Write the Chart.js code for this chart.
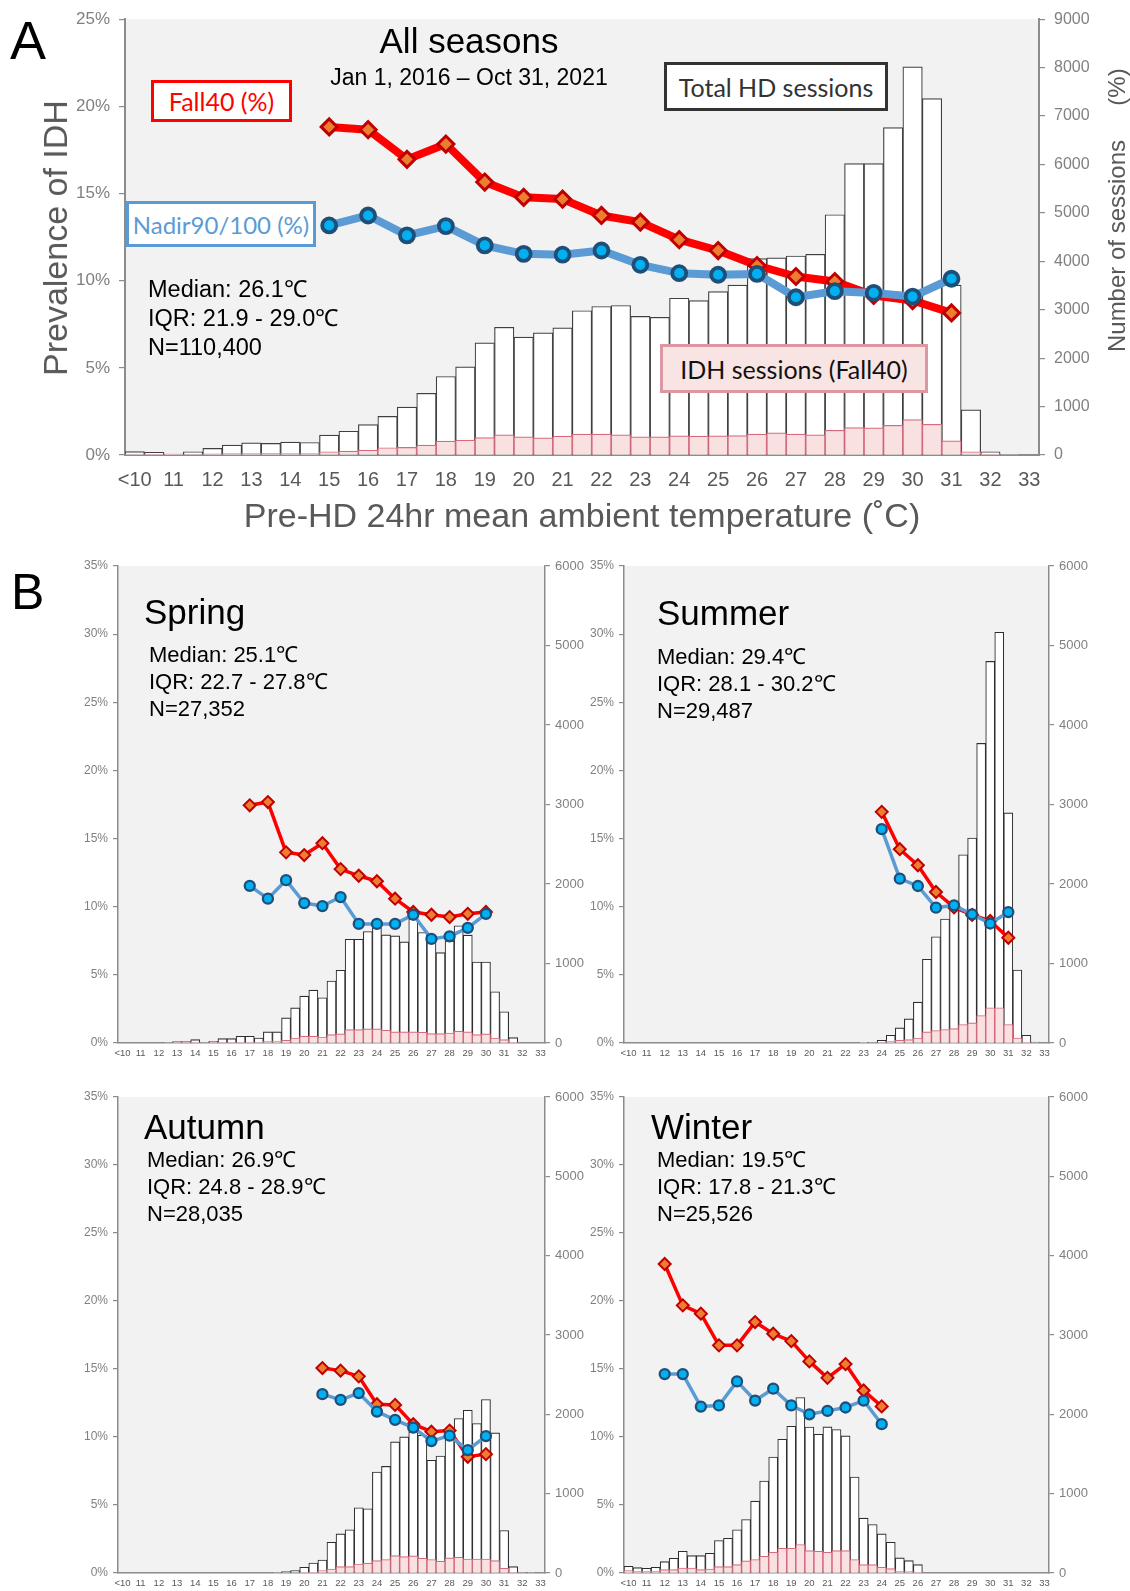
<!DOCTYPE html>
<html>
<head>
<meta charset="utf-8">
<script src="https://cdn.jsdelivr.net/npm/chart.js@4.4.1/dist/chart.umd.min.js"></script>
<style>
  html, body { margin: 0; padding: 0; background: #fff; }
  body { position: relative; width: 1130px; height: 1591px; overflow: hidden; font-family: "Liberation Sans", Arial, sans-serif; }
  canvas { position: absolute; }
  .t { position: absolute; white-space: nowrap; line-height: 1; color: #000; }
  .box { position: absolute; box-sizing: border-box; display: flex; align-items: center; justify-content: center;
         font-family: Lato, "Open Sans", sans-serif; white-space: nowrap; background: #fff; }
  .rot { position: absolute; white-space: nowrap; line-height: 1; color: #595959; transform: translate(-50%, -50%) rotate(-90deg); }
</style>
</head>
<body>
<canvas id="chartAll"></canvas>
<canvas id="chartSpring"></canvas>
<canvas id="chartSummer"></canvas>
<canvas id="chartAutumn"></canvas>
<canvas id="chartWinter"></canvas>

<script>
// Temperature bins (half degree steps), labels shown only on whole degrees
const tempCats = ['<10','10.5','11','11.5','12','12.5','13','13.5','14','14.5','15','15.5','16','16.5','17','17.5',
  '18','18.5','19','19.5','20','20.5','21','21.5','22','22.5','23','23.5','24','24.5','25','25.5','26','26.5',
  '27','27.5','28','28.5','29','29.5','30','30.5','31','31.5','32','32.5','33'];

// ---- A: all seasons ----
const allTotal = [70,55,20,68,136,205,252,239,266,259,409,491,627,798,988,1275,1622,1820,2318,2638,2434,2522,2624,2979,3067,
  3088,2863,2843,3238,3190,3374,3510,4056,4070,4110,4145,4962,6017,6017,6761,8015,7360,3510,934,68,14,0];
const allIdh = [20,14,5,10,25,30,30,35,30,30,68,80,100,150,157,205,286,307,361,416,375,354,389,430,430,
  416,375,375,395,389,395,402,430,457,430,416,511,566,559,613,729,634,293,68,14,0,0];
const allTemps = ['15','16','17','18','19','20','21','22','23','24','25','26','27','28','29','30','31'];
const allFall40 = [18.82,18.66,16.96,17.84,15.66,14.78,14.68,13.74,13.36,12.35,11.73,10.87,10.24,9.95,9.15,8.86,8.15];
const allNadir = [13.17,13.74,12.60,13.13,12.02,11.54,11.49,11.73,10.91,10.43,10.34,10.39,9.05,9.40,9.30,9.09,10.11];

// ---- B: spring ----
const springTotal = [0,0,0,0,0,8,17,17,42,8,21,55,55,84,84,63,139,139,316,442,589,665,568,779,914,1305,1305,1402,1453,
  1360,1347,1272,1560,1389,1326,1137,1284,1474,1356,1019,1019,644,392,67,0,0,0];
const springIdh = [0,0,0,0,0,0,4,4,4,0,4,4,8,8,13,13,21,25,34,63,84,84,76,105,114,168,168,177,177,160,139,139,139,135,
  118,118,126,147,139,105,114,63,42,8,0,0,0];
const springTemps = ['17','18','19','20','21','22','23','24','25','26','27','28','29','30'];
const springFall40 = [17.44,17.68,13.99,13.79,14.66,12.76,12.27,11.87,10.59,9.61,9.41,9.24,9.48,9.61];
const springNadir = [11.53,10.59,11.95,10.27,10.05,10.71,8.74,8.74,8.74,9.41,7.64,7.83,8.45,9.48];

// ---- B: summer ----
const summerTotal = [0,0,0,0,0,0,0,0,0,0,0,0,0,0,0,0,0,0,0,0,0,0,0,0,0,0,2,8,34,97,190,303,514,1054,1336,1559,1707,
  2368,2579,3768,4800,5166,2894,918,97,13,0];
const summerIdh = [0,0,0,0,0,0,0,0,0,0,0,0,0,0,0,0,0,0,0,0,0,0,0,0,0,0,0,0,8,21,34,42,63,139,156,169,181,232,253,346,
  443,443,232,63,13,0,0];
const summerTemps = ['24','25','26','27','28','29','30','31'];
const summerFall40 = [16.96,14.22,13.04,11.08,9.95,9.40,8.95,7.72];
const summerNadir = [15.69,12.06,11.52,9.93,10.10,9.44,8.77,9.61];

// ---- B: autumn ----
const autumnTotal = [0,0,0,0,0,0,0,0,0,0,0,0,0,0,0,0,0,5,17,30,72,126,164,388,493,544,822,809,1273,1344,1652,1715,
  1778,1736,1420,1475,1720,1947,2052,1884,2187,1766,535,80,8,4,0];
const autumnIdh = [0,0,0,0,0,0,0,0,0,0,0,0,0,0,0,0,0,0,0,0,4,8,30,50,80,80,114,122,156,169,219,206,215,185,169,147,
  190,198,177,177,177,156,59,8,0,0,0];
const autumnTemps = ['21','22','23','24','25','26','27','28','29','30'];
const autumnFall40 = [15.07,14.88,14.46,12.41,12.36,10.94,10.39,10.47,8.55,8.74];
const autumnNadir = [13.15,12.73,13.23,11.87,11.26,10.69,9.70,10.10,9.04,10.07];

// ---- B: winter ----
const winterTotal = [84,67,59,72,143,186,274,219,219,249,409,438,544,674,906,1159,1462,1686,1850,2212,1840,1749,1841,
  1808,1728,1209,691,611,493,388,190,156,105,0,0,0,0,0,0,0,0,0,0,0,0,0,0];
const winterIdh = [30,21,21,21,42,42,63,63,42,50,80,80,105,152,169,211,261,312,312,358,282,274,261,282,282,169,105,105,
  72,55,21,17,8,0,0,0,0,0,0,0,0,0,0,0,0,0,0];
const winterTemps = ['12','13','14','15','16','17','18','19','20','21','22','23','24'];
const winterFall40 = [22.72,19.68,19.07,16.74,16.74,18.45,17.59,17.05,15.56,14.35,15.36,13.42,12.25];
const winterNadir = [14.63,14.63,12.24,12.32,14.09,12.68,13.55,12.32,11.67,11.92,12.17,12.68,10.94];

Chart.defaults.font.family = '"Liberation Sans", Arial, sans-serif';

const plotBg = {
  id: 'plotBg',
  beforeDraw(chart) {
    const { ctx, chartArea: a } = chart;
    ctx.save();
    ctx.fillStyle = '#f2f2f2';
    ctx.fillRect(a.left, a.top, a.right - a.left, a.bottom - a.top);
    ctx.restore();
  }
};

const styleA = { fx: 20, fy: 17, fy2: 16, xPad: 13, yPad: 9, tl: 6, lw: 8, dr: 8, db: 3, cr: 7, cb: 3.8, bw: 1.2, bc: '#404040', axisW: 2 };
const styleB = { fx: 9.5, fy: 12, fy2: 13, xPad: 5, yPad: 5, tl: 5, lw: 3.5, dr: 6, db: 2, cr: 5, cb: 2.3, bw: 1.1, bc: '#2e2e2e', axisW: 1.5 };

function pts(temps, vals) {
  return temps.map((t, i) => ({ x: t, y: vals[i] }));
}

function makeChart(id, box, area, d, st) {
  const cv = document.getElementById(id);
  cv.width = box.w; cv.height = box.h;
  cv.style.left = box.x + 'px'; cv.style.top = box.y + 'px';
  const leftW = area.l - box.x, rightW = box.x + box.w - area.r, bottomH = box.y + box.h - area.b;
  const axisCol = '#8c8c8c';
  return new Chart(cv, {
    type: 'bar',
    data: {
      labels: tempCats,
      datasets: [
        { type: 'line', label: 'Nadir90/100', data: pts(d.temps, d.nadir), yAxisID: 'y', order: 0,
          borderColor: '#5b9bd5', borderWidth: st.lw, pointStyle: 'circle', pointRadius: st.cr,
          pointBackgroundColor: '#00b0f0', pointBorderColor: '#1f4e79', pointBorderWidth: st.cb,
          borderJoinStyle: 'round', borderCapStyle: 'round', tension: 0 },
        { type: 'line', label: 'Fall40', data: pts(d.temps, d.fall), yAxisID: 'y', order: 1,
          borderColor: '#ff0000', borderWidth: st.lw, pointStyle: 'rectRot', pointRadius: st.dr,
          pointBackgroundColor: '#ed7d31', pointBorderColor: '#c00000', pointBorderWidth: st.db,
          borderJoinStyle: 'round', borderCapStyle: 'round', tension: 0 },
        { label: 'IDH sessions', data: d.idh, yAxisID: 'y2', order: 2, grouped: false,
          backgroundColor: '#f9e1e2', borderColor: '#d66a7d', borderWidth: st.bw,
          barPercentage: 1, categoryPercentage: 1 },
        { label: 'Total HD sessions', data: d.total, yAxisID: 'y2', order: 3, grouped: false,
          backgroundColor: '#ffffff', borderColor: st.bc, borderWidth: st.bw,
          barPercentage: 1, categoryPercentage: 1 }
      ]
    },
    options: {
      responsive: false, animation: false, devicePixelRatio: 1,
      layout: { padding: { top: area.t - box.y, left: 0, right: 0, bottom: 0 } },
      plugins: { legend: { display: false }, tooltip: { enabled: false } },
      scales: {
        x: {
          offset: true,
          grid: { display: false, drawTicks: false },
          border: { display: true, color: axisCol, width: st.axisW },
          ticks: { autoSkip: false, maxRotation: 0, minRotation: 0, padding: st.xPad, color: '#595959',
                   font: { size: st.fx },
                   callback: (v, i) => tempCats[i].includes('.') ? '' : tempCats[i] },
          afterFit: s => { s.height = bottomH; }
        },
        y: {
          position: 'left', min: 0, max: d.pctMax,
          grid: { drawOnChartArea: false, drawTicks: true, tickLength: st.tl, color: axisCol, lineWidth: 1.2 },
          border: { display: true, color: axisCol, width: st.axisW },
          ticks: { stepSize: 5, padding: st.yPad, color: '#808080', font: { size: st.fy }, callback: v => v + '%' },
          afterFit: s => { s.width = leftW; }
        },
        y2: {
          position: 'right', min: 0, max: d.nMax,
          grid: { drawOnChartArea: false, drawTicks: true, tickLength: st.tl, color: axisCol, lineWidth: 1.2 },
          border: { display: true, color: axisCol, width: st.axisW },
          ticks: { stepSize: 1000, padding: st.yPad, color: '#808080', font: { size: st.fy2 }, callback: v => String(v) },
          afterFit: s => { s.width = rightW; }
        }
      }
    },
    plugins: [plotBg]
  });
}

makeChart('chartAll', { x: 0, y: 0, w: 1130, h: 545 }, { l: 125, r: 1039, t: 14, b: 455 },
  { total: allTotal, idh: allIdh, temps: allTemps, fall: allFall40, nadir: allNadir, pctMax: 25, nMax: 9000 }, styleA);
makeChart('chartSpring', { x: 50, y: 546, w: 540, h: 520 }, { l: 118, r: 545, t: 566, b: 1043 },
  { total: springTotal, idh: springIdh, temps: springTemps, fall: springFall40, nadir: springNadir, pctMax: 35, nMax: 6000 }, styleB);
makeChart('chartSummer', { x: 580, y: 546, w: 550, h: 520 }, { l: 624, r: 1049, t: 566, b: 1043 },
  { total: summerTotal, idh: summerIdh, temps: summerTemps, fall: summerFall40, nadir: summerNadir, pctMax: 35, nMax: 6000 }, styleB);
makeChart('chartAutumn', { x: 50, y: 1077, w: 540, h: 514 }, { l: 118, r: 545, t: 1097, b: 1573 },
  { total: autumnTotal, idh: autumnIdh, temps: autumnTemps, fall: autumnFall40, nadir: autumnNadir, pctMax: 35, nMax: 6000 }, styleB);
makeChart('chartWinter', { x: 580, y: 1077, w: 550, h: 514 }, { l: 624, r: 1049, t: 1097, b: 1573 },
  { total: winterTotal, idh: winterIdh, temps: winterTemps, fall: winterFall40, nadir: winterNadir, pctMax: 35, nMax: 6000 }, styleB);

// ---- text overlays ----
function text(str, x, baseline, size, opt = {}) {
  const el = document.createElement('div');
  el.className = 't';
  el.textContent = str;
  el.style.fontSize = size + 'px';
  el.style.top = (baseline - 0.8465 * size) + 'px';
  el.style.left = x + 'px';
  if (opt.center) el.style.transform = 'translateX(-50%)';
  if (opt.color) el.style.color = opt.color;
  document.body.appendChild(el);
}
function rotText(str, cx, cy, size) {
  const el = document.createElement('div');
  el.className = 'rot';
  el.textContent = str;
  el.style.fontSize = size + 'px';
  el.style.left = cx + 'px'; el.style.top = cy + 'px';
  document.body.appendChild(el);
}
function box(str, x, y, w, h, size, border, color, bg) {
  const el = document.createElement('div');
  el.className = 'box';
  el.textContent = str;
  Object.assign(el.style, { left: x + 'px', top: y + 'px', width: w + 'px', height: h + 'px',
    fontSize: size + 'px', border: border, color: color });
  if (bg) el.style.background = bg;
  document.body.appendChild(el);
}

// panel A
text('A', 10, 59, 54);
text('All seasons', 469, 53, 35, { center: true });
text('Jan 1, 2016 \u2013 Oct 31, 2021', 469, 85, 23, { center: true });
text('Median: 26.1\u2103', 148, 298, 23.5);
text('IQR: 21.9 - 29.0\u2103', 148, 327, 23.5);
text('N=110,400', 148, 356, 23.5);
text('Pre-HD 24hr mean ambient temperature (\u02daC)', 582, 527, 34, { center: true, color: '#595959' });
rotText('Prevalence of IDH', 55, 238, 34);
rotText('Number of sessions', 1117, 246, 24);
rotText('(%)', 1117, 87, 24);
box('Fall40 (%)', 151, 80, 141, 42, 25, '3px solid #ff0000', '#ff0000');
box('Nadir90/100 (%)', 126, 201, 190, 46, 24, '3px solid #5b9bd5', '#5b9bd5');
box('Total HD sessions', 664, 62, 224, 49, 25, '3.5px solid #333333', '#333333');
box('IDH sessions (Fall40)', 660, 344, 268, 49, 25, '3px solid #dc98a1', '#111111', '#f9e4e4');

// panel B
text('B', 11, 609, 50);
const seasonLabels = [
  ['Spring', 144, 624, 149, 663, 'Median: 25.1\u2103', 'IQR: 22.7 - 27.8\u2103', 'N=27,352'],
  ['Summer', 657, 625, 657, 665, 'Median: 29.4\u2103', 'IQR: 28.1 - 30.2\u2103', 'N=29,487'],
  ['Autumn', 144, 1139, 147, 1168, 'Median: 26.9\u2103', 'IQR: 24.8 - 28.9\u2103', 'N=28,035'],
  ['Winter', 651, 1139, 657, 1168, 'Median: 19.5\u2103', 'IQR: 17.8 - 21.3\u2103', 'N=25,526']
];
seasonLabels.forEach(s => {
  text(s[0], s[1], s[2], 35);
  text(s[5], s[3], s[4], 22);
  text(s[6], s[3], s[4] + 26.5, 22);
  text(s[7], s[3], s[4] + 54, 22);
});
</script>
</body>
</html>
